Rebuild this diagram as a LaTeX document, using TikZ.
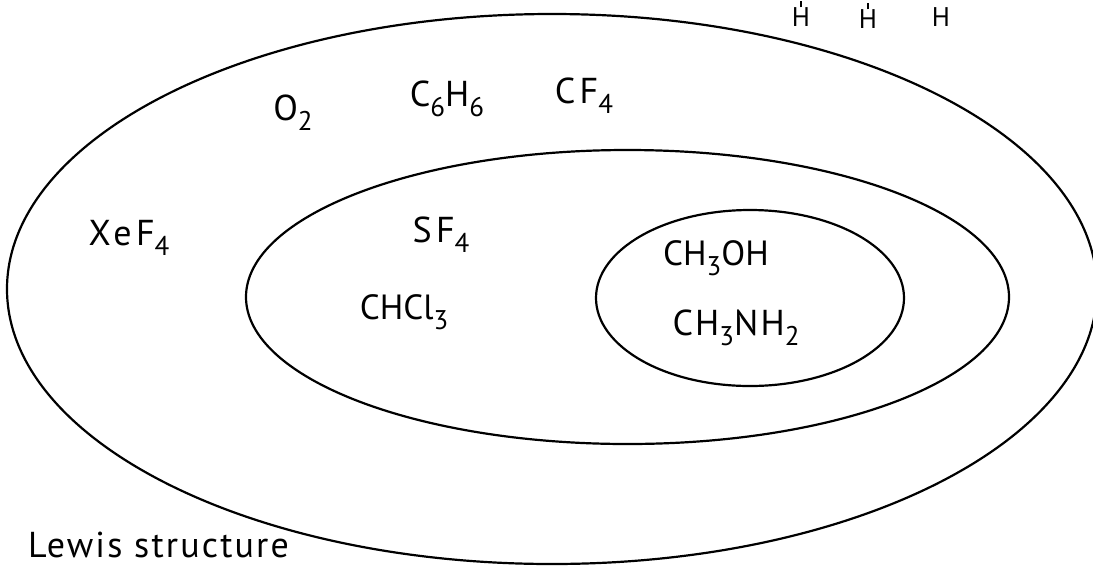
\documentclass[tikz,border=0pt]{standalone}
\usepackage{fontspec}
\setmainfont{PT Sans}
\newfontfamily\handwide[LetterSpace=12]{PT Sans}
\newfontfamily\handmid[LetterSpace=6]{PT Sans}
\newfontfamily\handplain{PT Sans}
% lowered subscript in the running text font
\newcommand\chemsub[1]{\raisebox{-0.28em}{\fontsize{27}{27}\selectfont #1}}
\tikzset{
  chem/.style={font=\fontsize{36}{42}\selectfont\handwide, inner sep=0pt, anchor=center},
  chemmid/.style={chem, font=\fontsize{36}{42}\selectfont\handmid},
  chemtight/.style={chem, font=\fontsize{35}{42}\selectfont\handplain},
  atomH/.style={font=\fontsize{27}{30}\selectfont, inner sep=0pt, anchor=center},
  setline/.style={line width=2.2pt},
}
\begin{document}
\begin{tikzpicture}[x=1pt, y=-1pt]
  \useasboundingbox (0,0) rectangle (1093,566);
  \clip (0,0) rectangle (1093,566);
  \fill[white] (0,0) rectangle (1093,566);

  % outer, middle and inner sets
  \draw[setline] (552,289) ellipse [x radius=545, y radius=275];
  \draw[setline] (627.5,297) ellipse [x radius=381.5, y radius=147];
  \draw[setline] (750,298) ellipse [x radius=154, y radius=88];

  % members
  \node[chem]      (o2)    at (293,113) {O\chemsub{2}};
  \node[chem]      (c6h6)  at (447,99)  {C\chemsub{6}H\chemsub{6}};
  \node[chem]      (cf4)   at (584,96)  {CF\chemsub{4}};
  \node[chem]      (xef4)  at (129,238) {XeF\chemsub{4}};
  \node[chem]      (sf4)   at (441,235) {SF\chemsub{4}};
  \node[chemtight] (chcl3) at (404,312) {CHCl\chemsub{3}};
  \node[chemtight] (meoh)  at (716,258) {CH\chemsub{3}OH};
  \node[chemmid]   (mena)  at (736,328) {CH\chemsub{3}NH\chemsub{2}};

  % hydrogens along the top edge
  \node[atomH] (h1) at (801,17) {H};
  \node[atomH] (h2) at (868,19) {H};
  \node[atomH] (h3) at (941,17) {H};
  \draw[line width=1.2pt] (h1.north) -- ++(0,-6);
  \draw[line width=1.2pt] (h2.north) -- ++(0,-6);

  % caption
  \node[chemmid, anchor=west] (lewis) at (28,545) {Lewis structure};
\end{tikzpicture}
\end{document}
